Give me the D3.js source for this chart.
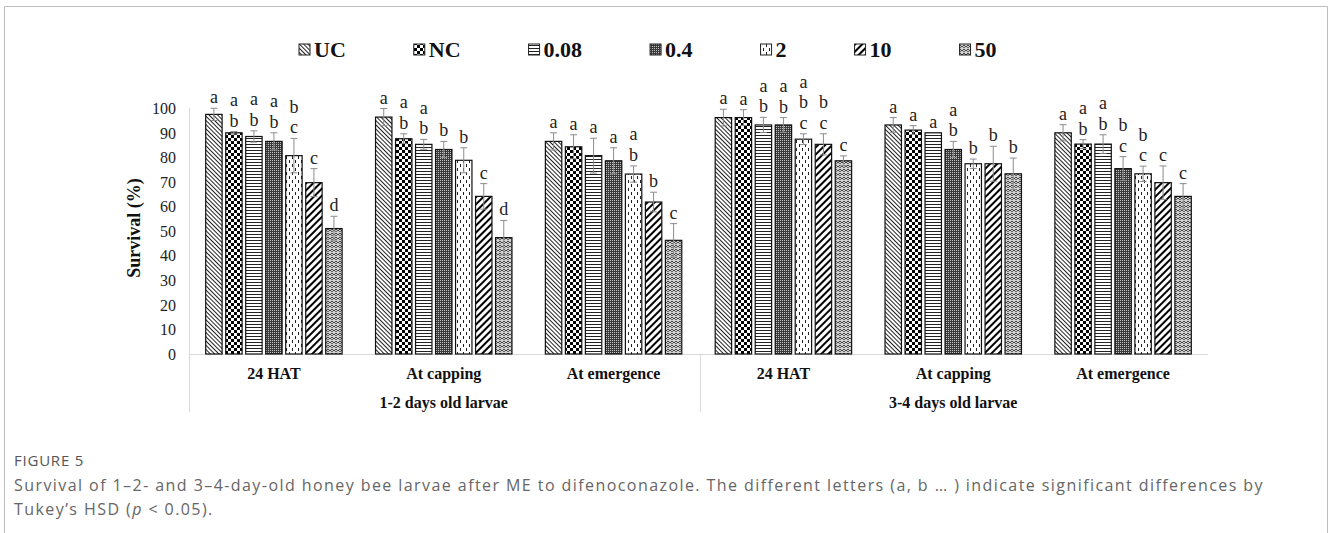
<!DOCTYPE html>
<html>
<head>
<meta charset="utf-8">
<script src="https://cdn.jsdelivr.net/npm/d3@7"></script>
<style>
  body { margin: 0; background: #fff; }
  svg { display: block; }
</style>
</head>
<body>
<div id="chart"></div>
<script>
// data
const series = ["UC", "NC", "0.08", "0.4", "2", "10", "50"];
const categories = ["24 HAT", "At capping", "At emergence", "24 HAT", "At capping", "At emergence"];
const groups = ["1-2 days old larvae", "3-4 days old larvae"];

const means = {
  "UC":   [97.6, 96.5, 86.6, 96.3, 93.3, 90.1],
  "NC":   [90.1, 87.7, 84.4, 96.3, 91.2, 85.5],
  "0.08": [88.6, 85.4, 80.8, 93.3, 90.1, 85.5],
  "0.4":  [86.6, 83.3, 78.7, 93.3, 83.3, 75.5],
  "2":    [80.8, 78.9, 73.3, 87.5, 77.5, 73.4],
  "10":   [69.8, 64.2, 61.9, 85.4, 77.5, 69.8],
  "50":   [51.1, 47.4, 46.3, 78.7, 73.4, 64.2]
};
const errors = {
  "UC":   [2.5, 3.5, 3.5, 3.4, 3.0, 3.3],
  "NC":   [0.5, 2.0, 4.9, 3.2, 1.8, 1.8],
  "0.08": [2.3, 2.0, 7.1, 3.1, 0.0, 3.8],
  "0.4":  [3.5, 3.3, 5.3, 3.0, 3.3, 4.9],
  "2":    [7.0, 5.1, 3.3, 2.2, 1.9, 3.1],
  "10":   [5.7, 5.2, 4.0, 4.3, 7.1, 6.8],
  "50":   [5.0, 7.0, 6.8, 2.0, 6.4, 5.2]
};
const letters = {
  "UC":   ["a", "a", "a", "a", "a", "a"],
  "NC":   ["ab", "ab", "a", "a", "a", "ab"],
  "0.08": ["ab", "ab", "a", "ab", "a", "ab"],
  "0.4":  ["ab", "b", "a", "ab", "ab", "bc"],
  "2":    ["bc", "b", "ab", "abc", "b", "bc"],
  "10":   ["c", "c", "b", "bc", "b", "c"],
  "50":   ["d", "d", "c", "c", "b", "c"]
};
const yTicks = [0, 10, 20, 30, 40, 50, 60, 70, 80, 90, 100];

const width = 1328, height = 533;
const serif = "'Liberation Serif', 'Times New Roman', serif";
const sans = "'Open Sans', 'Noto Sans', sans-serif";

const svg = d3.select("#chart").append("svg")
  .attr("width", width).attr("height", height);

// fill patterns (black & white like the original)
const defs = svg.append("defs");
function pat(id, w, h, bg, transform){
  let p = defs.append("pattern").attr("id", id)
    .attr("patternUnits", "userSpaceOnUse")
    .attr("width", w).attr("height", h);
  if(transform) p.attr("patternTransform", transform);
  p.append("rect").attr("width", w).attr("height", h).attr("fill", bg);
  return p;
}
let p;
// UC: fine downward diagonal
p = pat("p0", 3, 3, "#fff", "rotate(-45)");
p.append("rect").attr("width", 1).attr("height", 3).attr("fill", "#222");
// NC: large checker
p = pat("p1", 6, 6, "#fff");
p.append("rect").attr("width", 3).attr("height", 3).attr("fill", "#000");
p.append("rect").attr("x", 3).attr("y", 3).attr("width", 3).attr("height", 3).attr("fill", "#000");
// 0.08: narrow horizontal
p = pat("p2", 3, 3, "#fff");
p.append("rect").attr("width", 3).attr("height", 1).attr("fill", "#222");
// 0.4: small dark checker
p = pat("p3", 2, 2, "#3a3a3a");
p.append("rect").attr("width", 1).attr("height", 1).attr("fill", "#c4c4c4");
// 2: dashed vertical
p = pat("p4", 6, 8, "#fff");
p.append("rect").attr("x", 1).attr("y", 0).attr("width", 1).attr("height", 3).attr("fill", "#222");
p.append("rect").attr("x", 4).attr("y", 4).attr("width", 1).attr("height", 3).attr("fill", "#222");
// 10: wide upward diagonal
p = pat("p5", 5, 5, "#fff", "rotate(45)");
p.append("rect").attr("width", 2).attr("height", 5).attr("fill", "#000");
// 50: weave
p = pat("p6", 4, 4, "#d0d0d0");
p.append("path").attr("d", "M0,1 L2,3 L4,1 M0,3.5 L1,4 M3,4 L4,3.5")
  .attr("fill", "none").attr("stroke", "#333").attr("stroke-width", 0.9);

const fills = {};
series.forEach((s, i) => fills[s] = "url(#p" + i + ")");

// outer frame
svg.append("path")
  .attr("d", "M4.5,533 V6.5 H1327.5 V533")
  .attr("fill", "none").attr("stroke", "#bdbdbd").attr("stroke-width", 1);

// scales
const x0 = d3.scaleBand().domain(d3.range(categories.length)).range([189, 1208]);
const x1 = d3.scaleBand().domain(series).range([0, x0.bandwidth()])
  .paddingInner(0.18).paddingOuter(0.835);
const y = d3.scaleLinear().domain([0, 100]).range([354, 108.5]);

// axis lines
const axisCol = "#d9d9d9";
svg.append("line").attr("x1", 189.5).attr("x2", 189.5).attr("y1", 108).attr("y2", 412)
  .attr("stroke", axisCol);
svg.append("line").attr("x1", 189).attr("x2", 1208).attr("y1", 354.5).attr("y2", 354.5)
  .attr("stroke", axisCol);
svg.append("line").attr("x1", 700.5).attr("x2", 700.5).attr("y1", 354).attr("y2", 412)
  .attr("stroke", axisCol);

// y tick labels
const yAxis = svg.append("g").attr("transform", "translate(176,0)")
  .call(d3.axisLeft(y).tickValues(yTicks).tickSize(0).tickPadding(0));
yAxis.select(".domain").remove();
yAxis.selectAll("text")
  .attr("font-family", serif).attr("font-size", 16).attr("fill", "#222");

svg.append("text")
  .attr("transform", "translate(140,228) rotate(-90)")
  .attr("text-anchor", "middle")
  .attr("font-family", serif).attr("font-size", 18).attr("font-weight", "bold")
  .attr("fill", "#111")
  .text("Survival (%)");

// bars
const rows = [];
series.forEach(s => categories.forEach((c, i) => rows.push({
  s: s, i: i, v: means[s][i], e: errors[s][i], l: letters[s][i]
})));

const gBars = svg.append("g");
gBars.selectAll("rect").data(rows).join("rect")
  .attr("x", d => x0(d.i) + x1(d.s))
  .attr("y", d => y(d.v))
  .attr("width", x1.bandwidth())
  .attr("height", d => y(0) - y(d.v))
  .attr("fill", d => fills[d.s])
  .attr("stroke", "#111").attr("stroke-width", 1.2);

// error bars
const gErr = svg.append("g").attr("stroke", "#8c8c8c").attr("stroke-width", 1);
rows.filter(d => d.e > 0).forEach(d => {
  const cx = x0(d.i) + x1(d.s) + x1.bandwidth() / 2;
  gErr.append("line").attr("x1", cx).attr("x2", cx)
    .attr("y1", y(d.v + d.e)).attr("y2", y(d.v - d.e));
  gErr.append("line").attr("x1", cx - 3.5).attr("x2", cx + 3.5)
    .attr("y1", y(d.v + d.e)).attr("y2", y(d.v + d.e));
  gErr.append("line").attr("x1", cx - 3.5).attr("x2", cx + 3.5)
    .attr("y1", y(d.v - d.e)).attr("y2", y(d.v - d.e));
});

// significance letters, stacked above the error bar
const gLab = svg.append("g").attr("font-family", serif).attr("font-size", 18)
  .attr("fill", "#222").attr("text-anchor", "middle");
rows.forEach(d => {
  const cx = x0(d.i) + x1(d.s) + x1.bandwidth() / 2;
  const base = y(d.v + d.e) - 5;
  const ls = d.l.split("");
  ls.forEach((ch, k) => {
    gLab.append("text").attr("x", cx)
      .attr("y", base - (ls.length - 1 - k) * 20.5)
      .text(ch);
  });
});

// category labels
const gCat = svg.append("g").attr("font-family", serif).attr("font-weight", "bold")
  .attr("font-size", 16).attr("fill", "#111").attr("text-anchor", "middle");
categories.forEach((c, i) => {
  gCat.append("text").attr("x", x0(i) + x0.bandwidth() / 2).attr("y", 379).text(c);
});
groups.forEach((g, k) => {
  const a = x0(k * 3), b = x0(k * 3 + 2) + x0.bandwidth();
  gCat.append("text").attr("x", (a + b) / 2).attr("y", 408).text(g);
});

// legend: entries laid out one after another like Excel does
const gLeg = svg.append("g");
let lx = 299;
series.forEach((s, i) => {
  gLeg.append("rect").attr("x", lx).attr("y", 44).attr("width", 11).attr("height", 11)
    .attr("fill", fills[s]).attr("stroke", "#222").attr("stroke-width", 1);
  const t = gLeg.append("text").attr("x", lx + 15).attr("y", 56.5)
    .attr("font-family", serif).attr("font-weight", "bold").attr("font-size", 22)
    .attr("fill", "#111").text(s);
  lx += 15 + t.node().getComputedTextLength() + 68;
});

// caption: stretch with letter spacing to the width seen in the figure
function spreadText(sel, target){
  const w = sel.node().getComputedTextLength();
  const n = sel.text().length;
  const ls = (target - w) / n;
  sel.attr("letter-spacing", ls.toFixed(3));
  return ls;
}
const fig = svg.append("text").attr("x", 14).attr("y", 466)
  .attr("font-family", sans).attr("font-size", 15).attr("fill", "#555")
  .text("FIGURE 5");
spreadText(fig, 70);
const cap1 = svg.append("text").attr("x", 14).attr("y", 491)
  .attr("font-family", sans).attr("font-size", 16).attr("fill", "#666")
  .text("Survival of 1\u20132- and 3\u20134-day-old honey bee larvae after ME to difenoconazole. The different letters (a, b \u2026 ) indicate significant differences by");
const capLs = spreadText(cap1, 1250);
const cap2 = svg.append("text").attr("x", 14).attr("y", 515)
  .attr("font-family", sans).attr("font-size", 16).attr("fill", "#666")
  .attr("letter-spacing", capLs.toFixed(3));
cap2.append("tspan").text("Tukey\u2019s HSD (");
cap2.append("tspan").attr("font-style", "italic").text("p");
cap2.append("tspan").text(" < 0.05).");
</script>
</body>
</html>
